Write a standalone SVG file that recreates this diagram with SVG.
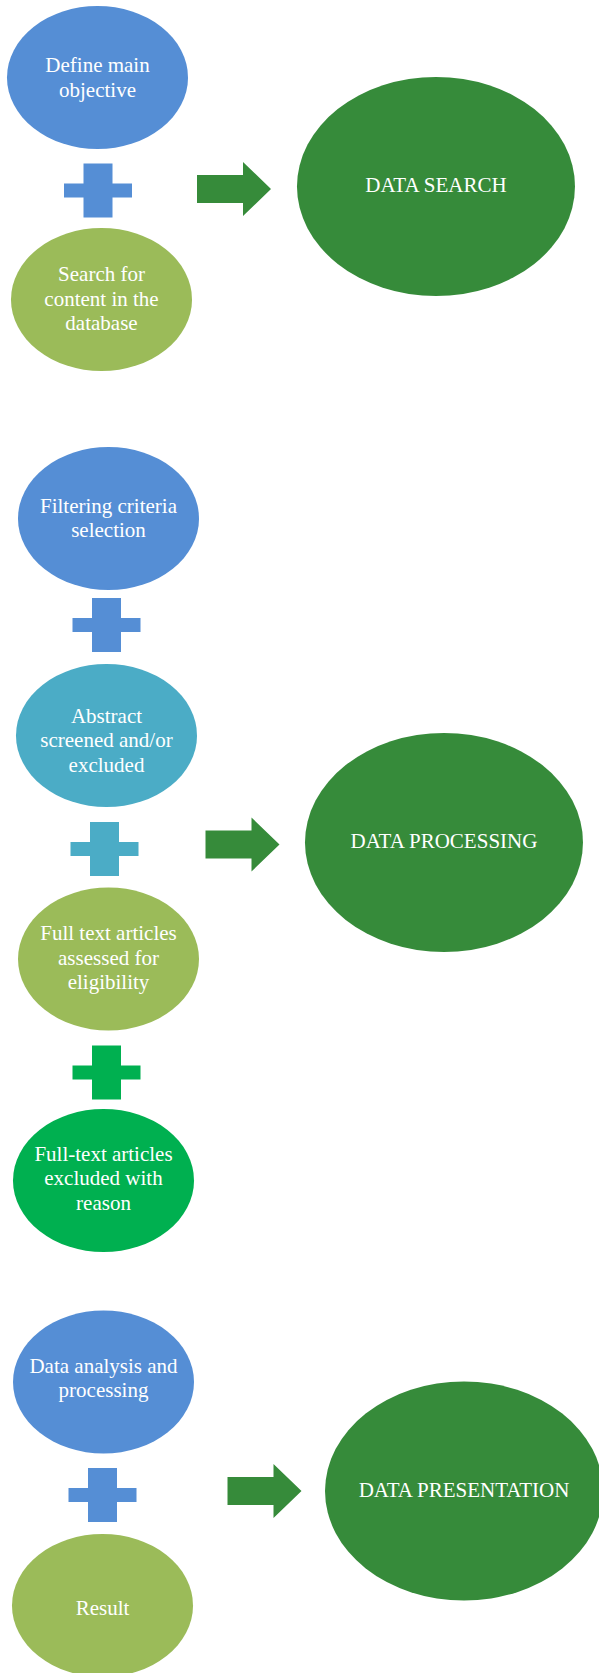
<svg xmlns="http://www.w3.org/2000/svg" width="599" height="1673" viewBox="0 0 599 1673">
  <style>
    .t { font-family: "Liberation Serif", "Times New Roman", serif; font-size: 21px; fill: #ffffff; text-anchor: middle; }
    .blue { fill: #558ED5; }
    .lgreen { fill: #9BBB59; }
    .teal { fill: #4BACC6; }
    .bgreen { fill: #00B050; }
    .dgreen { fill: #368B3A; }
  </style>
  <defs>
    <path id="plus" d="M-14.5,-27 H14.5 V-7 H34 V7 H14.5 V27 H-14.5 V7 H-34 V-7 H-14.5 Z"/>
    <path id="arrow" d="M0,-14 H46 V-27 L74,0 L46,27 V14 H0 Z"/>
  </defs>

  <g id="define-objective">
    <ellipse class="blue" cx="97.5" cy="77.5" rx="90.5" ry="71.5"/>
    <text class="t" x="97.5" y="72">Define main</text>
    <text class="t" x="97.5" y="97">objective</text>
  </g>
  <g id="search-content">
    <ellipse class="lgreen" cx="101.5" cy="299.5" rx="90.5" ry="71.5"/>
    <text class="t" x="101.5" y="281">Search for</text>
    <text class="t" x="101.5" y="306">content in the</text>
    <text class="t" x="101.5" y="330">database</text>
  </g>
  <g id="data-search">
    <ellipse class="dgreen" cx="436" cy="186.5" rx="139" ry="109.5"/>
    <text class="t" x="436" y="192">DATA SEARCH</text>
  </g>

  <g id="filtering-criteria">
    <ellipse class="blue" cx="108.5" cy="518.5" rx="90.5" ry="71.5"/>
    <text class="t" x="108.5" y="513">Filtering criteria</text>
    <text class="t" x="108.5" y="537">selection</text>
  </g>
  <g id="abstract-screened">
    <ellipse class="teal" cx="106.5" cy="735.5" rx="90.5" ry="71.5"/>
    <text class="t" x="106.5" y="723">Abstract</text>
    <text class="t" x="106.5" y="747">screened and/or</text>
    <text class="t" x="106.5" y="772">excluded</text>
  </g>
  <g id="full-text-assessed">
    <ellipse class="lgreen" cx="108.5" cy="959" rx="90.5" ry="71.5"/>
    <text class="t" x="108.5" y="940">Full text articles</text>
    <text class="t" x="108.5" y="965">assessed for</text>
    <text class="t" x="108.5" y="989">eligibility</text>
  </g>
  <g id="full-text-excluded">
    <ellipse class="bgreen" cx="103.5" cy="1180.5" rx="90.5" ry="71.5"/>
    <text class="t" x="103.5" y="1161">Full-text articles</text>
    <text class="t" x="103.5" y="1185">excluded with</text>
    <text class="t" x="103.5" y="1210">reason</text>
  </g>
  <g id="data-processing">
    <ellipse class="dgreen" cx="444" cy="842.5" rx="139" ry="109.5"/>
    <text class="t" x="444" y="848">DATA PROCESSING</text>
  </g>

  <g id="data-analysis">
    <ellipse class="blue" cx="103.5" cy="1382" rx="90.5" ry="71.5"/>
    <text class="t" x="103.5" y="1373">Data analysis and</text>
    <text class="t" x="103.5" y="1397">processing</text>
  </g>
  <g id="result">
    <ellipse class="lgreen" cx="102.5" cy="1605.5" rx="90.5" ry="71.5"/>
    <text class="t" x="102.5" y="1615">Result</text>
  </g>
  <g id="data-presentation">
    <ellipse class="dgreen" cx="464" cy="1491" rx="139" ry="109.5"/>
    <text class="t" x="464" y="1497">DATA PRESENTATION</text>
  </g>

  <g id="connectors">
    <use href="#plus" class="blue" x="98" y="190.5"/>
    <use href="#plus" class="blue" x="106.5" y="625"/>
    <use href="#plus" class="teal" x="104.5" y="849"/>
    <use href="#plus" class="bgreen" x="106.5" y="1072.5"/>
    <use href="#plus" class="blue" x="102.5" y="1495"/>
    <use href="#arrow" class="dgreen" x="197" y="189"/>
    <use href="#arrow" class="dgreen" x="205.5" y="844.5"/>
    <use href="#arrow" class="dgreen" x="227.5" y="1491"/>
  </g>
</svg>
